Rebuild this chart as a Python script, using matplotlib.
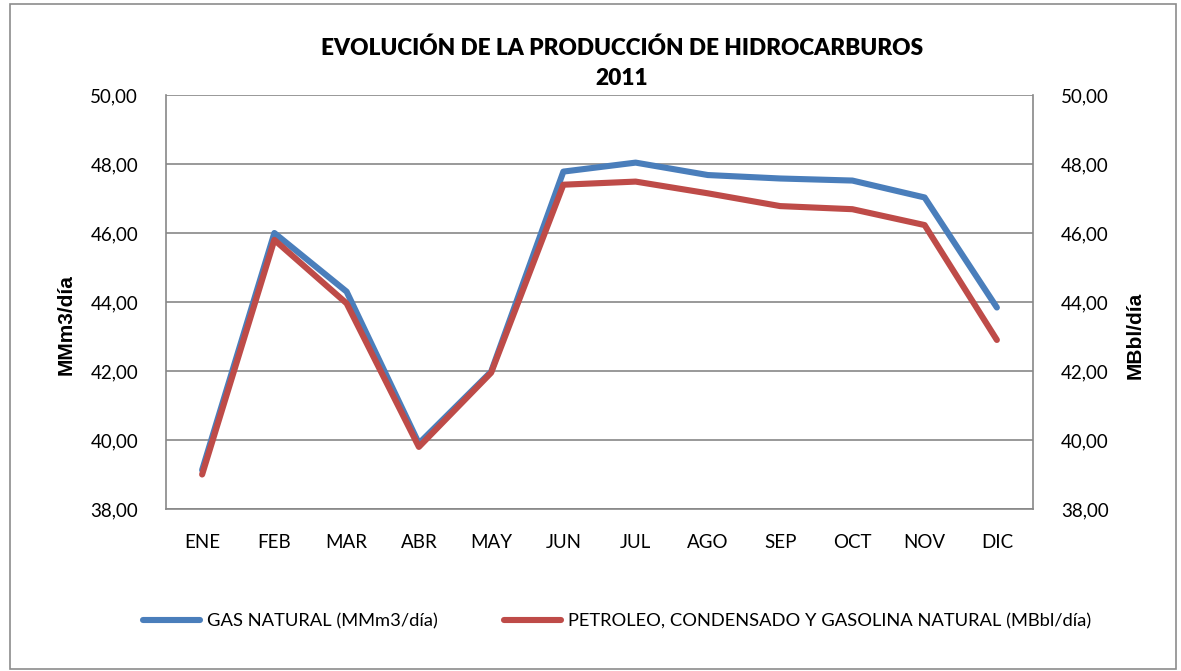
import matplotlib
matplotlib.use("Agg")
import matplotlib.pyplot as plt
from matplotlib.patches import Rectangle
from matplotlib.ticker import FuncFormatter, MultipleLocator

months = ["ENE", "FEB", "MAR", "ABR", "MAY", "JUN", "JUL", "AGO", "SEP", "OCT", "NOV", "DIC"]
gas = [39.13, 46.00, 44.30, 39.90, 41.98, 47.78, 48.04, 47.68, 47.58, 47.52, 47.03, 43.84]
petroleo = [39.00, 45.80, 43.96, 39.80, 41.95, 47.40, 47.49, 47.15, 46.78, 46.69, 46.23, 42.90]

title = "EVOLUCIÓN DE LA PRODUCCIÓN DE HIDROCARBUROS\n2011"
gas_label = "GAS NATURAL (MMm3/día)"
pet_label = "PETROLEO, CONDENSADO Y GASOLINA NATURAL (MBbl/día)"

BLUE = "#4A7EBB"
RED = "#BE4B48"
GRID = "#878787"
FONT = ["Lato", "DejaVu Sans"]

plt.rcParams["font.family"] = FONT

W, H = 1181, 671
fig = plt.figure(figsize=(W / 100, H / 100), dpi=100)
fig.patch.set_facecolor("white")

# chart border
fig.add_artist(Rectangle((10 / W, 2 / H), 1166 / W, 665 / H, transform=fig.transFigure,
                         fill=False, edgecolor="#8c8c8c", linewidth=1.2))

left, right, top, bottom = 166 / W, 1033 / W, 1 - 95 / H, 1 - 509 / H
ax = fig.add_axes([left, bottom, right - left, top - bottom])
ax2 = ax.twinx()

x = list(range(len(months)))
l1, = ax.plot(x, gas, color=BLUE, lw=4.4, solid_capstyle="round", solid_joinstyle="round",
              label=gas_label, zorder=3)
l2, = ax2.plot(x, petroleo, color=RED, lw=4.4, solid_capstyle="round", solid_joinstyle="round",
               label=pet_label, zorder=3)

fmt = FuncFormatter(lambda v, p: f"{v:.2f}".replace(".", ","))
for a in (ax, ax2):
    a.set_ylim(38, 50)
    a.yaxis.set_major_locator(MultipleLocator(2))
    a.yaxis.set_major_formatter(fmt)
    a.set_xlim(-0.5, len(months) - 0.5)
    for s in a.spines.values():
        s.set_visible(False)

ax.set_xticks(x)
ax.set_xticklabels(months)
ax.grid(axis="y", color=GRID, lw=1.2)
ax.set_axisbelow(True)
ax.spines["left"].set_visible(True)
ax.spines["left"].set_color(GRID)
ax.spines["left"].set_linewidth(1.2)
ax.spines["bottom"].set_visible(True)
ax.spines["bottom"].set_color(GRID)
ax.spines["bottom"].set_linewidth(1.2)
ax2.spines["right"].set_visible(True)
ax2.spines["right"].set_color(GRID)
ax2.spines["right"].set_linewidth(1.2)

ax.tick_params(axis="y", length=0, pad=20, labelsize=13.5)
ax.tick_params(axis="x", length=0, pad=18, labelsize=13.5)
ax2.tick_params(axis="y", length=0, pad=20, labelsize=13.5)

LAB = ["Liberation Sans", "DejaVu Sans"]
fig.text(66 / W, 1 - 325 / H, "MMm3/día", rotation=90, ha="center", va="center",
         fontsize=15, fontweight="bold", family=LAB)
fig.text(1135 / W, 1 - 335 / H, "MBbl/día", rotation=90, ha="center", va="center",
         fontsize=15, fontweight="bold", family=LAB)

fig.text(622 / W, 1 - 63.5 / H, title, ha="center", va="center", fontsize=16.3,
         fontweight="heavy", linespacing=1.55)

fig.legend([l1, l2], [gas_label, pet_label], loc="center", bbox_to_anchor=(617 / W, 1 - 621 / H),
           ncol=2, frameon=False, fontsize=13.2, handlelength=3.1, handletextpad=0.4,
           columnspacing=3.6)

fig.savefig("out.png", dpi=100)
